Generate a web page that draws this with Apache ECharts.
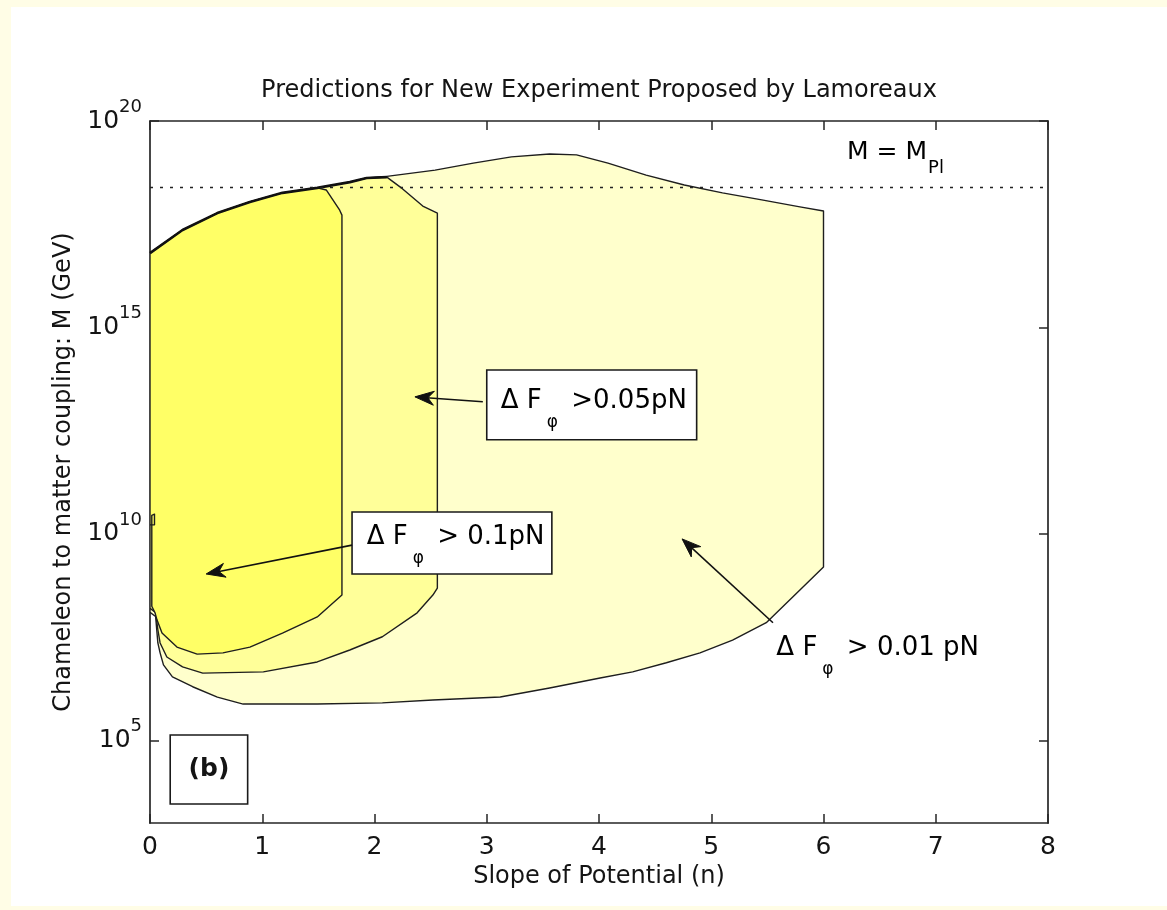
<!DOCTYPE html>
<html>
<head>
<meta charset="utf-8">
<script src="https://cdn.jsdelivr.net/npm/echarts@6/dist/echarts.min.js"></script>
<style>
  html, body { margin:0; padding:0; background:#fffde6; }
  #panel { position:absolute; left:11px; top:7px; width:1156px; height:899px; background:#ffffff; }
  #chart { position:absolute; left:0; top:0; width:1167px; height:910px; }
</style>
</head>
<body>
<div id="panel"></div>
<div id="chart"></div>
<script>
// ---------------- data (n, log10 M[GeV]) ----------------
const xTicks = [0, 1, 2, 3, 4, 5, 6, 7, 8];
const yTickExponents = [5, 10, 15, 20];
const planckLogM = 18.39;   // M = M_Pl

// Delta F > 0.01 pN
const region001 = [
  [0, 16.80], [0.29, 17.36], [0.60, 17.77], [0.89, 18.04], [1.18, 18.26], [1.49, 18.38],
  [1.78, 18.52], [1.93, 18.62], [2.11, 18.66], [2.54, 18.81], [2.88, 18.98], [3.22, 19.13],
  [3.56, 19.20], [3.80, 19.18], [4.08, 18.98], [4.42, 18.69], [4.76, 18.45], [5.10, 18.26],
  [5.45, 18.09], [5.79, 17.92], [6.00, 17.82], [6.00, 9.20], [5.79, 8.64], [5.49, 7.85],
  [5.19, 7.43], [4.90, 7.12], [4.60, 6.88], [4.30, 6.66], [4.01, 6.51], [3.56, 6.27],
  [3.12, 6.05], [2.52, 5.98], [2.07, 5.91], [1.49, 5.88], [0.83, 5.88], [0.60, 6.05],
  [0.38, 6.30], [0.20, 6.54], [0.12, 6.83], [0.09, 7.12], [0.07, 7.36], [0.05, 8.00], [0, 8.10]
];
// Delta F > 0.05 pN
const region005 = [
  [0, 16.80], [0.29, 17.36], [0.60, 17.77], [0.89, 18.04], [1.18, 18.26], [1.49, 18.38],
  [1.78, 18.52], [1.93, 18.62], [2.11, 18.64], [2.23, 18.40], [2.43, 17.94], [2.56, 17.77],
  [2.56, 8.69], [2.52, 8.52], [2.38, 8.09], [2.07, 7.51], [1.78, 7.19], [1.49, 6.90],
  [1.01, 6.66], [0.47, 6.63], [0.29, 6.78], [0.15, 7.02], [0.09, 7.36], [0.07, 7.68],
  [0.05, 8.10], [0, 8.20]
];
// Delta F > 0.1 pN
const region01 = [
  [0, 16.80], [0.29, 17.36], [0.60, 17.77], [0.89, 18.04], [1.18, 18.26], [1.49, 18.38],
  [1.57, 18.33], [1.69, 17.84], [1.71, 17.72], [1.71, 8.52], [1.49, 7.99], [1.18, 7.60],
  [0.89, 7.26], [0.65, 7.12], [0.42, 7.09], [0.24, 7.26], [0.107, 7.60], [0.062, 7.92],
  [0.045, 8.09], [0.016, 8.25], [0.016, 10.45], [0.04, 10.48], [0.04, 10.22], [0, 10.22], [0, 10.5]
];

// ---------------- styling / layout ----------------
const FONT = 'DejaVu Sans';
const INK = '#141414';

function regionSeries(name, pts, fill, z, lw) {
  return {
    type: 'custom', name, coordinateSystem: 'cartesian2d',
    data: [[0, 10]], z, silent: true, animation: false, clip: true,
    renderItem: (params, api) => ({
      type: 'polygon',
      shape: { points: pts.map(p => api.coord(p)) },
      style: { fill, stroke: '#1e1e1e', lineWidth: lw, lineJoin: 'round' }
    })
  };
}
const envelope = region005.slice(0, 9);

const axisLine = { show: true, onZero: false, lineStyle: { color: '#262626', width: 1.7 } };
const tickIn = { show: true, inside: true, length: 9, lineStyle: { color: '#262626', width: 1.5 } };

const option = {
  backgroundColor: 'transparent',
  animation: false,
  grid: { left: 150, right: 119, top: 121, bottom: 87, containLabel: false },
  xAxis: [
    { type: 'value', min: 0, max: 8, interval: 1, position: 'bottom',
      axisLine, axisTick: tickIn, splitLine: { show: false },
      axisLabel: { fontFamily: FONT, fontSize: 25, color: INK, margin: 12 },
      name: 'Slope of Potential (n)', nameLocation: 'middle', nameGap: 42,
      nameTextStyle: { fontFamily: FONT, fontSize: 24, color: INK } },
    { type: 'value', min: 0, max: 8, interval: 1, position: 'top',
      axisLine, axisTick: tickIn, splitLine: { show: false }, axisLabel: { show: false } }
  ],
  yAxis: [
    { type: 'value', min: 3, max: 20, position: 'left',
      axisLine, splitLine: { show: false },
      axisTick: Object.assign({}, tickIn, { customValues: yTickExponents }),
      axisLabel: {
        customValues: yTickExponents, margin: 8,
        formatter: v => '{b|10}{e|' + v + '}',
        rich: {
          b: { fontFamily: FONT, fontSize: 25, lineHeight: 46, color: INK, verticalAlign: 'middle' },
          e: { fontFamily: FONT, fontSize: 18, lineHeight: 18, color: INK, verticalAlign: 'top' }
        }
      },
      name: 'Chameleon to matter coupling: M (GeV)', nameLocation: 'middle', nameGap: 74,
      nameRotate: 90,
      nameTextStyle: { fontFamily: FONT, fontSize: 24, color: INK } },
    { type: 'value', min: 3, max: 20, position: 'right',
      axisLine, splitLine: { show: false },
      axisTick: Object.assign({}, tickIn, { customValues: yTickExponents }),
      axisLabel: { show: false } }
  ],
  series: [
    regionSeries('dF > 0.01 pN', region001, '#ffffcc', 1, 1.4),
    regionSeries('dF > 0.05 pN', region005, '#ffff99', 2, 1.4),
    regionSeries('dF > 0.1 pN', region01, '#ffff66', 3, 1.4),
    { type: 'line', name: 'envelope', data: envelope, symbol: 'none', z: 4, silent: true,
      lineStyle: { color: '#111', width: 2.6 } },
    { type: 'line', name: 'M = M_Pl', data: [[0, planckLogM], [8, planckLogM]], symbol: 'none', z: 5,
      silent: true, lineStyle: { color: '#222', width: 1.6, type: [3, 7] } }
  ]
};

const chart = echarts.init(document.getElementById('chart'), null, { renderer: 'canvas' });
chart.setOption(option);

// ---------------- annotations (placed in data coordinates) ----------------
const P = (n, lg) => chart.convertToPixel({ xAxisIndex: 0, yAxisIndex: 0 }, [n, lg]);

function arrow(tail, tip) {
  const a = P(tail[0], tail[1]), b = P(tip[0], tip[1]);
  const dx = b[0] - a[0], dy = b[1] - a[1], L = Math.hypot(dx, dy);
  const ux = dx / L, uy = dy / L, px = -uy, py = ux;
  const hl = 19, hw = 7, back = 6;
  const base = [b[0] - ux * hl, b[1] - uy * hl];
  return [
    { type: 'line', shape: { x1: a[0], y1: a[1], x2: b[0] - ux * 8, y2: b[1] - uy * 8 },
      style: { stroke: '#111', lineWidth: 1.6 }, z: 20 },
    { type: 'polygon', shape: { points: [
        b, [base[0] + px * hw, base[1] + py * hw],
        [b[0] - ux * (hl - back), b[1] - uy * (hl - back)],
        [base[0] - px * hw, base[1] - py * hw] ] },
      style: { fill: '#111', stroke: '#111', lineWidth: 1 }, z: 20 }
  ];
}
function box(n1, lg1, n2, lg2) {
  const a = P(n1, lg1), b = P(n2, lg2);
  return { type: 'rect', shape: { x: a[0], y: a[1], width: b[0] - a[0], height: b[1] - a[1] },
    style: { fill: '#ffffff', stroke: '#1a1a1a', lineWidth: 1.6 }, z: 18 };
}
const labelRich = {
  a: { fontFamily: FONT, fontSize: 26, color: INK, lineHeight: 60, verticalAlign: 'middle' },
  s: { fontFamily: FONT, fontSize: 17, color: INK, lineHeight: 20, verticalAlign: 'bottom', padding: [0, 5, 0, 5] }
};
function dfLabel(n, lg, tail) {
  const p = P(n, lg);
  return { type: 'text', x: p[0], y: p[1], z: 21,
    style: { text: '{a|Δ F}{s|φ}{a|' + tail + '}', rich: labelRich, align: 'left', verticalAlign: 'middle' } };
}

const grid = chart.getModel().getComponent('grid').coordinateSystem.getRect();
const pB1 = P(0.18, 5.13), pB2 = P(0.87, 3.46);
const pMpl = P(6.21, 19.23);

const graphics = [
  { type: 'text', x: grid.x + grid.width / 2, y: 91, z: 30,
    style: { text: 'Predictions for New Experiment Proposed by Lamoreaux', fontFamily: FONT, fontSize: 24,
      fill: INK, align: 'center', verticalAlign: 'middle' } },
  { type: 'text', x: pMpl[0], y: pMpl[1], z: 21,
    style: { text: '{a|M = M}{s|Pl}', align: 'left', verticalAlign: 'middle',
      rich: { a: { fontFamily: FONT, fontSize: 25, color: INK, lineHeight: 50, verticalAlign: 'middle' },
              s: { fontFamily: FONT, fontSize: 18, color: INK, lineHeight: 18, verticalAlign: 'bottom', padding: [0, 0, 0, 1] } } } },
  box(3.0, 13.97, 4.87, 12.28),
  dfLabel(3.125, 13.22, ' >0.05pN'),
  ...arrow([2.965, 13.20], [2.36, 13.32]),
  box(1.80, 10.53, 3.58, 9.03),
  dfLabel(1.93, 9.93, ' > 0.1pN'),
  ...arrow([1.80, 9.73], [0.50, 9.03]),
  dfLabel(5.58, 7.24, ' > 0.01 pN'),
  ...arrow([5.55, 7.85], [4.74, 9.88]),
  { type: 'rect', shape: { x: pB1[0], y: pB1[1], width: pB2[0] - pB1[0], height: pB2[1] - pB1[1] },
    style: { fill: '#ffffff', stroke: '#1a1a1a', lineWidth: 1.6 }, z: 18 },
  { type: 'text', x: (pB1[0] + pB2[0]) / 2, y: (pB1[1] + pB2[1]) / 2, z: 21,
    style: { text: '(b)', fontFamily: FONT, fontWeight: 'bold', fontSize: 25, fill: INK,
      align: 'center', verticalAlign: 'middle' } }
];
chart.setOption({ graphic: graphics });
</script>
</body>
</html>
